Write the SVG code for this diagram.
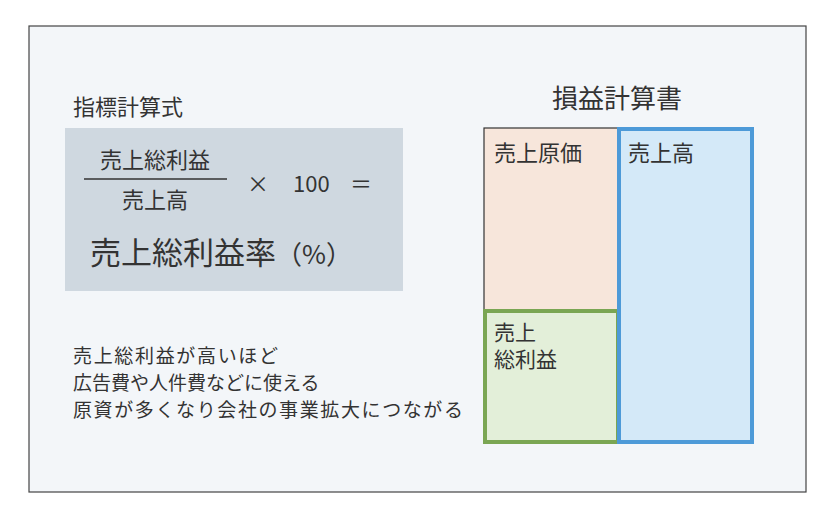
<svg xmlns="http://www.w3.org/2000/svg" width="839" height="518" viewBox="0 0 839 518">
<style>
text{font-family:"Noto Sans CJK JP","Noto Sans",sans-serif;fill:#333;}
.m{font-size:22px}
.b{font-size:19px}
</style>
<rect width="839" height="518" fill="#fff"/>
<rect x="29" y="26" width="777" height="466" fill="#f3f6f9" stroke="#444" stroke-width="1.2"/>
<g id="formula-title"><text x="73" y="115" class="m">指標計算式</text></g>
<g id="formula">
<rect x="65" y="128" width="338" height="163" fill="#cfd8e0"/>
<text x="155" y="168" class="m" text-anchor="middle">売上総利益</text>
<line x1="84" y1="179" x2="227" y2="179" stroke="#333" stroke-width="1.5"/>
<text x="155" y="208" class="m" text-anchor="middle">売上高</text>
<text x="247" y="192" class="m">×</text>
<text x="293" y="192" class="m">100</text>
<text x="350" y="192" class="m">＝</text>
<text x="90" y="264" style="font-size:31px">売上総利益率<tspan style="font-size:26px">（%）</tspan></text>
</g>
<g id="pl-title"><text x="617" y="108" style="font-size:26px" text-anchor="middle">損益計算書</text></g>
<g id="cost"><rect x="484" y="128" width="134" height="183" fill="#f7e6db" stroke="#333" stroke-width="1.2"/>
<text x="494" y="161" class="m">売上原価</text></g>
<g id="gross"><rect x="485" y="311" width="133" height="131" fill="#e3efd9" stroke="#7aa653" stroke-width="4"/>
<text x="494" y="340" style="font-size:21px">売上</text><text x="494" y="367" style="font-size:21px">総利益</text></g>
<g id="sales"><rect x="619" y="129" width="133" height="313" fill="#d4e9f8" stroke="#4d9ad8" stroke-width="4"/>
<text x="628" y="161" class="m">売上高</text></g>
<g id="note">
<text x="73" y="363" class="b" textLength="205">売上総利益が高いほど</text>
<text x="73" y="390" class="b">広告費や人件費などに使える</text>
<text x="73" y="417" class="b" textLength="390">原資が多くなり会社の事業拡大につながる</text>
</g>
</svg>
